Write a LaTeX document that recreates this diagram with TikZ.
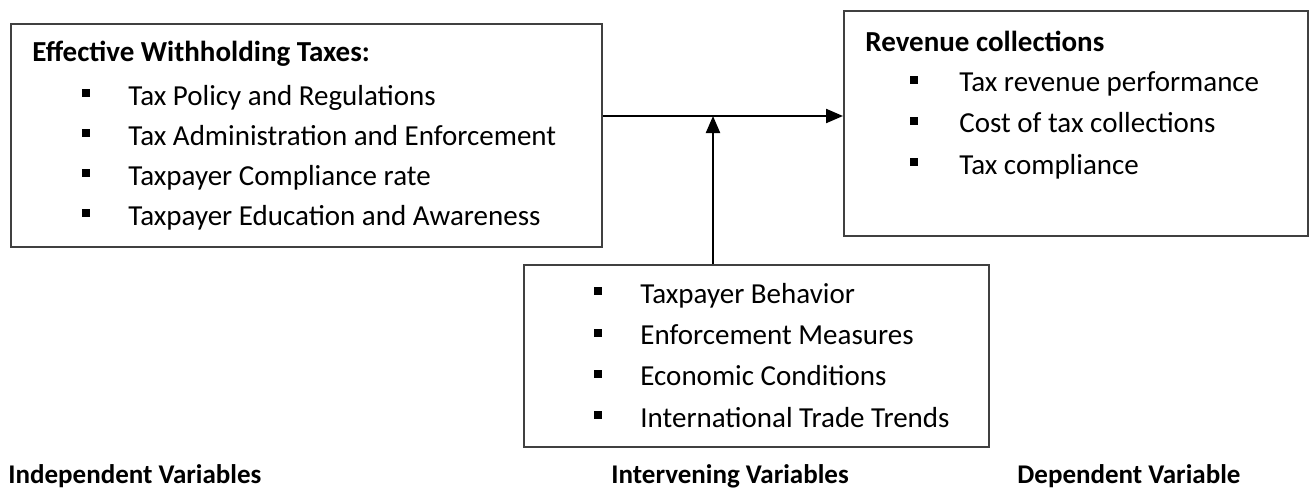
\documentclass[tikz,border=0pt]{standalone}
\usepackage{fontspec}
\setmainfont{Carlito}
\usetikzlibrary{arrows.meta}
\begin{document}
\begin{tikzpicture}[x=0.5pt,y=-0.5pt,
  box/.style={draw=black!75, line width=0.8pt, inner sep=0pt, anchor=north west},
  txt/.style={anchor=base west, inner sep=0pt, font=\fontsize{14.5}{17}\selectfont},
  hd/.style={anchor=base west, inner sep=0pt, font=\fontsize{14.5}{17}\selectfont\bfseries},
  lbl/.style={anchor=base west, inner sep=0pt, font=\fontsize{13.5}{16}\selectfont\bfseries},
  bul/.style={fill=black, inner sep=0pt, minimum size=4pt},
  conn/.style={line width=1.1pt, -{Triangle[length=8.5pt,width=7pt]}}
]
\useasboundingbox (0,0) rectangle (1316,492);

% boxes
\node[box, minimum width=295.5pt, minimum height=111.5pt] (ind) at (10,23) {};
\node[box, minimum width=232pt, minimum height=112.5pt] (dep) at (843,10) {};
\node[box, minimum width=232.5pt, minimum height=91pt] (mid) at (523,264) {};

% left box
\node[hd] (indT) at (32,62) {Effective Withholding Taxes:};
\foreach \t [count=\i] in {Tax Policy and Regulations,Tax Administration and Enforcement,Taxpayer Compliance rate,Taxpayer Education and Awareness}{
  \pgfmathsetmacro{\yb}{65+40*\i}
  \node[txt] (indI\i) at (128,\yb) {\t};
  \node[bul] (indB\i) at (86,\yb-12) {};
}

% right box
\node[hd] (depT) at (865,52) {Revenue collections};
\foreach \t [count=\i] in {Tax revenue performance,Cost of tax collections,Tax compliance}{
  \pgfmathsetmacro{\yb}{51+41*\i}
  \node[txt] (depI\i) at (959,\yb) {\t};
  \node[bul] (depB\i) at (914,\yb-12) {};
}

% bottom box
\foreach \t [count=\i] in {Taxpayer Behavior,Enforcement Measures,Economic Conditions,International Trade Trends}{
  \pgfmathsetmacro{\yb}{262+41.3*\i}
  \node[txt] (midI\i) at (640,\yb) {\t};
  \node[bul] (midB\i) at (598,\yb-12) {};
}

% connectors
\coordinate (jn) at (713,116);
\draw[conn] (ind.east |- jn) -- (dep.west |- jn);
\draw[conn] (jn |- mid.north) -- (jn);

% labels
\node[lbl] (lInd) at (8,483) {Independent Variables};
\node[lbl] (lMid) at (611,483) {Intervening Variables};
\node[lbl] (lDep) at (1017,483) {Dependent Variable};
\end{tikzpicture}
\end{document}
